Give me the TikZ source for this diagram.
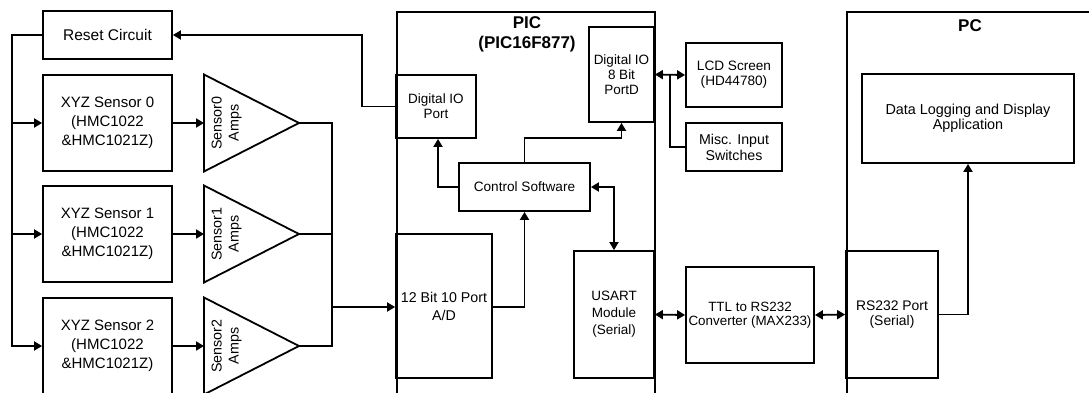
\documentclass[tikz,border=0pt]{standalone}
\usepackage{fontspec}
\setmainfont{Liberation Sans}
\usetikzlibrary{arrows.meta}
\tikzset{
  lw/.style={line width=1.8pt},
  box/.style={draw, lw, rectangle, inner sep=0pt, align=center},
  arr/.style={lw, -{Triangle[length=8pt,width=9pt]}},
  darr/.style={lw, {Triangle[length=8pt,width=9pt]}-{Triangle[length=8pt,width=9pt]}},
  conn/.style={lw},
  fs/.style 2 args={font=\fontsize{#1}{#2}\selectfont},
}
\begin{document}
\begin{tikzpicture}[x=1pt,y=-1pt]
\useasboundingbox (0,0) rectangle (1089,392);
\clip (0,0) rectangle (1089,392);
% outer containers
\node[box, minimum width=258, minimum height=400, anchor=north west] (pic) at (396,11) {};
\node[font=\fontsize{17}{20}\selectfont\bfseries, align=center] (pictitle) at (527,34) {PIC\\(PIC16F877)};
\node[box, minimum width=260, minimum height=400, anchor=north west] (pc) at (846,11) {};
\node[font=\fontsize{17}{20}\selectfont\bfseries] (pctitle) at (970,26) {PC};
% left side
\node[box, fs={15.5}{18}, minimum width=129, minimum height=48] (reset) at (107.5,35) {Reset Circuit};
\node[box, fs={15}{19}, minimum width=129, minimum height=96] (s0) at (107.5,123) {XYZ Sensor 0\\(HMC1022\\\&HMC1021Z)};
\node[box, fs={15}{19}, minimum width=129, minimum height=96] (s1) at (107.5,234) {XYZ Sensor 1\\(HMC1022\\\&HMC1021Z)};
\node[box, fs={15}{19}, minimum width=129, minimum height=96] (s2) at (107.5,346) {XYZ Sensor 2\\(HMC1022\\\&HMC1021Z)};
% amplifiers
\foreach \i/\y in {0/123,1/234,2/346}{
  \coordinate (a\i in) at (204,\y);
  \coordinate (a\i tip) at (299,\y);
  \draw[lw] (204,\y-48.5) -- (a\i tip) -- (204,\y+48.5) -- cycle;
  \node[rotate=90, align=center, fs={14.3}{17}] (a\i lab) at (226.5,\y) {Sensor\i\\Amps};
}
% PIC internals
\node[box, fs={13.5}{15}, minimum width=80, minimum height=63] (dio) at (436,106.5) {Digital IO\\Port};
\node[box, fs={13.5}{15}, minimum width=65, minimum height=95] (portd) at (621.5,74.5) {Digital IO\\8 Bit\\PortD};
\node[box, fs={13.6}{16}, minimum width=131, minimum height=48] (ctrl) at (524.5,187) {Control Software};
\node[box, fs={14.2}{18}, minimum width=96, minimum height=144] (ad) at (444,306) {12 Bit 10 Port\\A/D};
\node[box, fs={13.5}{17}, minimum width=80, minimum height=127] (usart) at (614,314.5) {USART\\Module\\(Serial)};
% peripherals
\node[box, fs={13.6}{15}, minimum width=96, minimum height=64] (lcd) at (734,75) {LCD Screen\\(HD44780)};
\node[box, fs={14.2}{16}, minimum width=96, minimum height=48] (misc) at (734,147) {Misc. Input\\Switches};
\node[box, fs={13.4}{14.5}, minimum width=128, minimum height=96] (ttl) at (750,315) {TTL to RS232\\Converter (MAX233)};
% PC internals
\node[box, fs={14.4}{14.5}, minimum width=212, minimum height=89] (datalog) at (968,118.5) {Data Logging and Display\\Application};
\node[box, fs={13.9}{15}, minimum width=92, minimum height=127] (rs232) at (892,314.5) {RS232 Port\\(Serial)};
% connectors
\draw[arr] (dio.west) -- ++(-33,0) |- (reset.east);
\coordinate (bus) at (12,35);
\draw[arr] (reset.west) -- (bus) |- (s2.west);
\draw[arr] (bus |- s0.west) -- (s0.west);
\draw[arr] (bus |- s1.west) -- (s1.west);
\draw[arr] (s0.east) -- (a0in);
\draw[arr] (s1.east) -- (a1in);
\draw[arr] (s2.east) -- (a2in);
\coordinate (jx) at (332,307);
\draw[conn] (a0tip) -| (jx);
\draw[conn] (a2tip) -| (jx);
\draw[conn] (a1tip) -- (a1tip -| jx);
\draw[arr] (jx) -- (jx -| ad.west);
\draw[arr] (ad.east |- jx) -| (ctrl.south);
\draw[arr] (ctrl.west) -| ([xshift=2pt]dio.south);
\draw[arr] (ctrl.north) -- ++(0,-24) -| (portd.south);
\draw[darr] (ctrl.east) -| (usart.north);
\draw[darr] (portd.east) -- (lcd.west);
\coordinate (pj) at (670,75);
\draw[conn] (pj) |- (misc.west);
\draw[darr] (usart.east) -- (ttl.west);
\draw[darr] (ttl.east) -- (rs232.west);
\draw[arr] (rs232.east) -| (datalog.south);
\end{tikzpicture}
\end{document}
